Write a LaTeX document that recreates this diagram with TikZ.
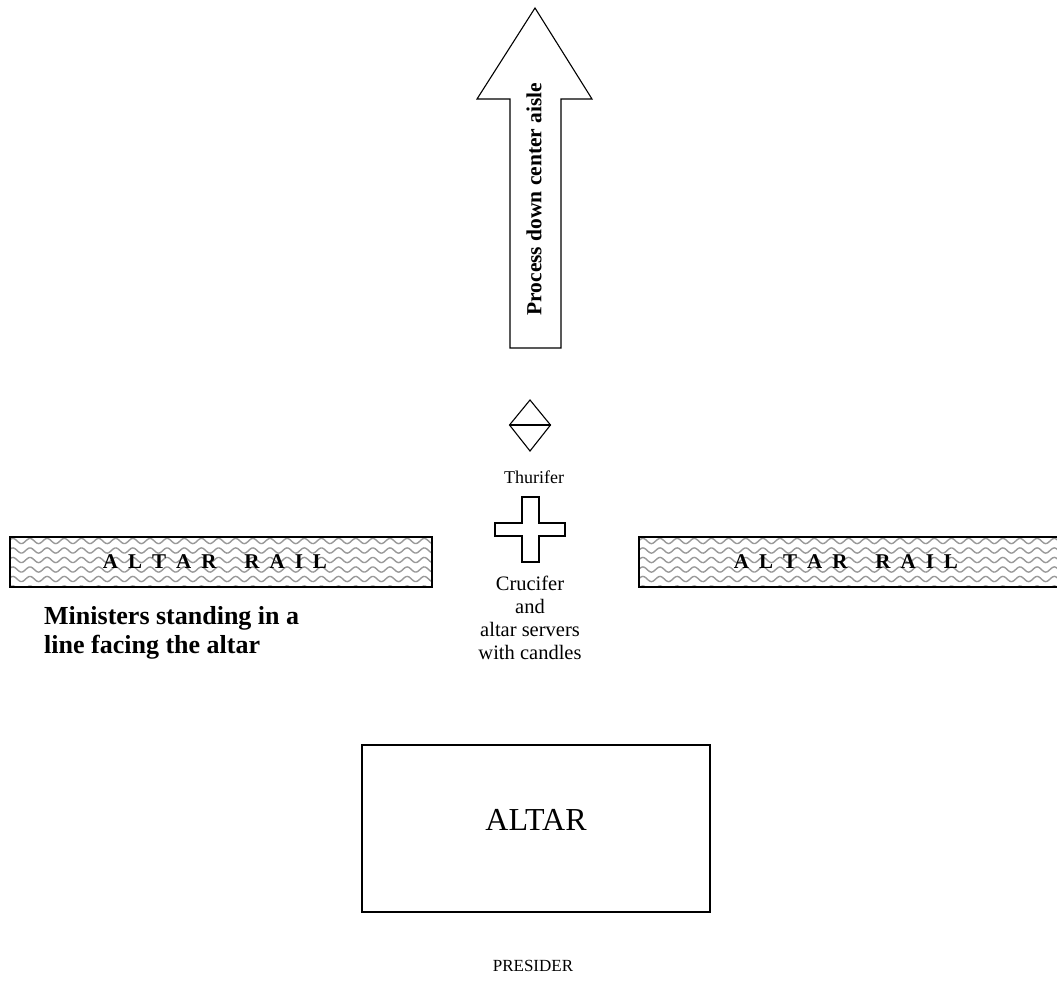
\documentclass[tikz,border=0pt]{standalone}
\usepackage{fontspec}
\setmainfont{Liberation Serif}
\begin{document}
\begin{tikzpicture}[x=1pt,y=-1pt,
  outline/.style={draw=black,line width=1.1pt,line join=miter},
  railbox/.style={draw=black,line width=1.4pt,minimum width=422pt,minimum height=50pt,inner sep=0pt},
  wave/.style={draw=black!40,line width=1.4pt},
  label/.style={inner sep=0pt,font=\fontsize{18}{23}\selectfont,align=center},
]
\useasboundingbox[fill=white] (0,0) rectangle (1057,1001);

% procession arrow
\coordinate (tip) at (535,8);
\draw[outline] (tip) -- (592,99) -- (561,99) -- (561,348) -- (510,348)
  -- (510,99) -- (477,99) -- cycle;
\node[rotate=90,inner sep=0pt,font=\bfseries\fontsize{21.5}{26}\selectfont]
  (proc) at (534,199) {Process down center aisle};

% thurifer: diamond with a centre line
\coordinate (dN) at (530,400);
\coordinate (dE) at (550.5,425);
\coordinate (dS) at (530,451);
\coordinate (dW) at (509.5,425);
\draw[outline] (dN) -- (dE) -- (dS) -- (dW) -- cycle;
\draw[outline] (dW) -- (dE);
\node[label] (thur) at (534,477) {Thurifer};

% crucifer: cross
\draw[outline,line width=1.5pt] (522,497) -- (539,497) -- (539,523) -- (565,523)
  -- (565,536) -- (539,536) -- (539,562) -- (522,562) -- (522,536) -- (495,536)
  -- (495,523) -- (522,523) -- cycle;
\node[label,font=\fontsize{20.5}{22.8}\selectfont] (cruc) at (530,618)
  {Crucifer\\and\\altar servers\\with candles};

% altar rails with wavy fill
\newcommand{\railletters}{\bfseries\fontsize{21}{24}\selectfont
  A\hspace{10pt}L\hspace{10pt}T\hspace{10pt}A\hspace{10pt}R\hspace{28pt}R\hspace{10pt}A\hspace{10pt}I\hspace{10pt}L}
\begin{scope}
  \clip (10,537) rectangle (432,587);
  \foreach \r in {0,...,6}
    \draw[wave] plot[domain=0:440,samples=300,smooth]
      (\x,{531.5+9.5*\r+2.6*sin(\x*21)});
\end{scope}
\begin{scope}
  \clip (639,537) rectangle (1057,587);
  \foreach \r in {0,...,6}
    \draw[wave] plot[domain=630:1060,samples=300,smooth]
      (\x,{531.5+9.5*\r+2.6*sin((\x-630)*21)});
\end{scope}
\node[railbox] (lrail) at (221,562) {};
\node[railbox] (rrail) at (850,562) {};
\node[inner sep=0pt] (ltext) at (215,562) {\railletters};
\node[inner sep=0pt] (rtext) at (846,562) {\railletters};

\node[inner sep=0pt,anchor=base west,align=left,
  font=\bfseries\fontsize{26}{29}\selectfont] (min) at (44,653)
  {Ministers standing in a\\line facing the altar};

% altar and presider
\node[draw=black,line width=2pt,minimum width=348pt,minimum height=167pt,inner sep=0pt]
  (altar) at (536,828.5) {};
\node[inner sep=0pt,font=\fontsize{32}{36}\selectfont] (altartext) at (536,820) {ALTAR};
\node[inner sep=0pt,font=\fontsize{17}{20}\selectfont] (pres) at (533,966) {PRESIDER};
\end{tikzpicture}
\end{document}
